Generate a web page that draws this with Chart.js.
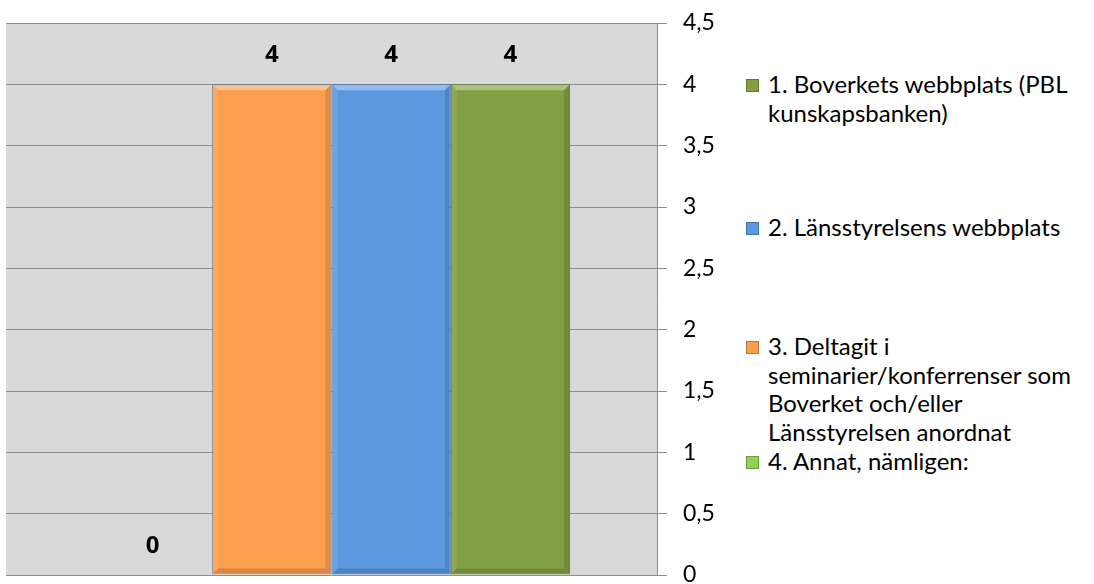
<!DOCTYPE html>
<html>
<head>
<meta charset="utf-8">
<script src="https://cdn.jsdelivr.net/npm/chart.js@4/dist/chart.umd.min.js"></script>
<style>
  html, body { margin: 0; padding: 0; background: #fff; overflow: hidden; }
  #wrap { position: relative; width: 1094px; height: 584px; }
  #chartBox { position: absolute; left: 0; top: 0; width: 730px; height: 584px; }
  #legend { position: absolute; left: 746px; top: 0; font-family: Lato, "Open Sans", sans-serif; font-size: 24px; color: #000; }
  .item { position: absolute; left: 0; white-space: pre; line-height: 28.7px; padding-left: 22px; }
  .item .sq { position: absolute; left: 0; top: 9px; width: 11px; height: 11px; border: 1px solid rgba(0,0,0,0.25); }
</style>
</head>
<body>
<div id="wrap">
  <div id="chartBox"><canvas id="c"></canvas></div>
  <div id="legend"></div>
</div>
<script>
// series in legend order (bars are drawn in reverse order, left to right)
const seriesNames = [
  "1. Boverkets webbplats (PBL\nkunskapsbanken)",
  "2. Länsstyrelsens webbplats",
  "3. Deltagit i\nseminarier/konferrenser som\nBoverket och/eller\nLänsstyrelsen anordnat",
  "4. Annat, nämligen:"
];
const seriesValues = [4, 4, 4, 0];
const seriesColors = ["#82A043", "#5C98DF", "#FB9E4E", "#92D050"];
const seriesBorders = ["#5F7A2E", "#3F6FAE", "#5F7793", "#6F9F3A"];
const legendTops = [70, 213, 332, 447];
const yMax = 4.5;
const yStep = 0.5;

// custom legend
const legendEl = document.getElementById("legend");
seriesNames.forEach((name, i) => {
  const d = document.createElement("div");
  d.className = "item";
  d.style.top = legendTops[i] + "px";
  d.textContent = name;
  const sq = document.createElement("span");
  sq.className = "sq";
  sq.style.background = seriesColors[i];
  d.prepend(sq);
  legendEl.appendChild(d);
});

const order = [3, 2, 1, 0];
const datasets = order.map(i => ({
  label: seriesNames[i],
  data: [seriesValues[i]],
  backgroundColor: seriesColors[i],
  borderColor: seriesBorders[i],
  borderWidth: 1,
  barPercentage: 1,
  categoryPercentage: 0.733
}));

const plotBg = {
  id: "plotBg",
  beforeDraw(chart) {
    const { ctx, chartArea: a } = chart;
    ctx.save();
    ctx.fillStyle = "#D9D9D9";
    ctx.fillRect(a.left, a.top, a.right - a.left, a.bottom - a.top);
    ctx.restore();
  }
};

// bevel look + value labels
const bevel = {
  id: "bevel",
  afterDatasetsDraw(chart) {
    const ctx = chart.ctx;
    chart.data.datasets.forEach((ds, di) => {
      chart.getDatasetMeta(di).data.forEach((bar, j) => {
        const x0 = bar.x - bar.width / 2, x1 = bar.x + bar.width / 2;
        const y0 = bar.y, y1 = bar.base;
        const b = 6;
        if (y1 - y0 > 2 * b) {
          ctx.save();
          const poly = (pts, fill) => {
            ctx.beginPath();
            ctx.moveTo(pts[0][0], pts[0][1]);
            pts.slice(1).forEach(p => ctx.lineTo(p[0], p[1]));
            ctx.closePath();
            ctx.fillStyle = fill;
            ctx.fill();
          };
          poly([[x0+1, y0+1], [x1-1, y0+1], [x1-b, y0+b], [x0+b, y0+b]], "rgba(255,255,255,0.35)");
          poly([[x0+1, y1-1], [x1-1, y1-1], [x1-b, y1-b], [x0+b, y1-b]], "rgba(0,0,0,0.14)");
          poly([[x0+1, y0+1], [x0+b, y0+b], [x0+b, y1-b], [x0+1, y1-1]], "rgba(255,255,255,0.10)");
          poly([[x1-1, y0+1], [x1-b, y0+b], [x1-b, y1-b], [x1-1, y1-1]], "rgba(0,0,0,0.12)");
          ctx.restore();
        }
        ctx.save();
        ctx.font = "bold 24px 'Open Sans', sans-serif";
        ctx.fillStyle = "#000";
        ctx.textAlign = "center";
        ctx.textBaseline = "middle";
        ctx.fillText(String(ds.data[j]), bar.x, bar.y - 29);
        ctx.restore();
      });
    });
  }
};

new Chart(document.getElementById("c"), {
  type: "bar",
  data: { labels: [""], datasets },
  options: {
    responsive: true,
    maintainAspectRatio: false,
    animation: false,
    layout: { padding: { left: 6, top: 23, right: 0, bottom: 9 } },
    plugins: { legend: { display: false }, tooltip: { enabled: false } },
    scales: {
      x: { display: false },
      y: {
        position: "right",
        min: 0,
        max: yMax,
        afterFit(s) { s.width = 73; s.paddingTop = 0; s.paddingBottom = 0; },
        ticks: {
          stepSize: yStep,
          padding: 16,
          color: "#000",
          font: { family: "Lato, 'Open Sans', sans-serif", size: 23 },
          callback: v => String(v).replace(".", ",")
        },
        grid: { color: "#8F8F8F", lineWidth: 1, tickLength: 10, drawTicks: true },
        border: { display: true, color: "#8F8F8F", width: 1 }
      }
    }
  },
  plugins: [plotBg, bevel]
});
</script>
</body>
</html>
